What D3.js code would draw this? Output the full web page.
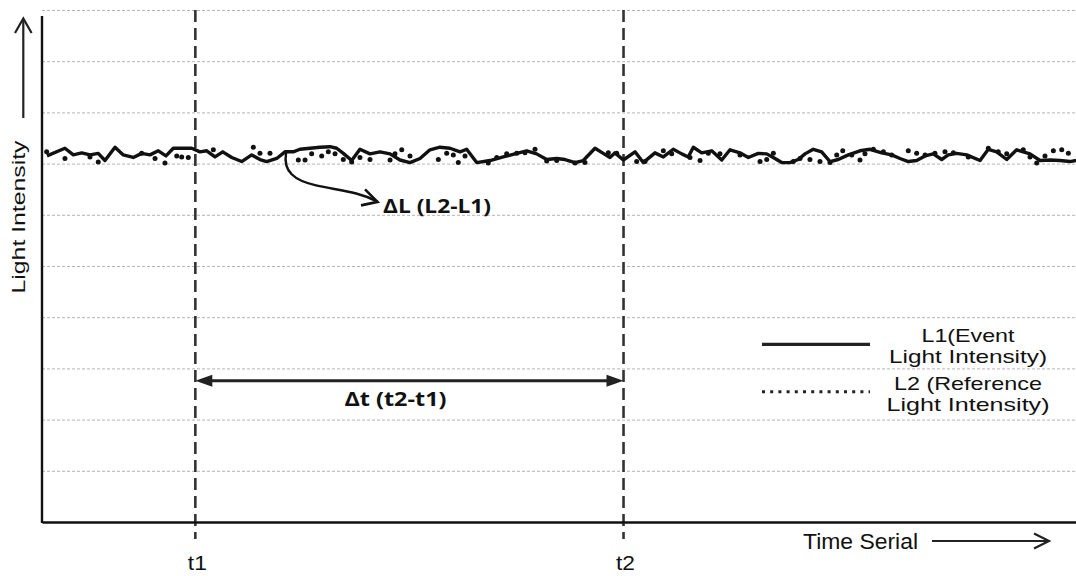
<!DOCTYPE html>
<html><head><meta charset="utf-8">
<script src="https://cdn.jsdelivr.net/npm/d3@7/dist/d3.min.js"></script>
<style>body{margin:0;background:#fff}svg{display:block}</style>
</head><body>
<svg id="chart" width="1076" height="576"></svg>
<script>
// ---- data ----
const l1Time = [0.48,2.22,3.03,3.84,4.64,5.44,6.09,7.06,7.86,8.83,9.64,10.44,11.25,11.99,12.70,14.48,15.28,15.93,16.73,17.48,18.35,19.31,20.28,21.08,21.73,22.70,23.50,24.30,24.95,25.92,26.89,27.85,28.50,29.14,29.95,30.75,31.72,32.69,33.66,34.62,35.59,36.56,37.52,38.49,39.46,40.43,41.07,42.04,43.33,44.61,45.91,46.88,47.84,48.81,49.78,50.58,51.55,52.35,53.48,54.28,54.93,55.42,56.22,57.35,58.15,59.28,60.09,61.05,61.87,62.50,62.99,63.80,64.77,65.74,66.54,67.50,68.31,69.27,70.09,70.72,71.54,72.34,73.14,73.79,74.59,75.40,76.21,77.01,77.98,79.11,80.08,81.21,82.17,82.98,83.78,84.59,85.40,86.20,87.01,87.65,88.46,89.43,90.72,91.52,92.33,93.30,94.26,95.55,96.52,97.49,98.45,99.42,100];
const l1Value = [7.15,7.30,7.17,7.21,7.17,7.20,7.06,7.32,7.17,7.12,7.20,7.17,7.25,7.15,7.30,7.30,7.23,7.25,7.13,7.23,7.12,7.04,7.17,7.08,7.04,7.10,7.23,7.23,7.28,7.30,7.32,7.33,7.30,7.20,7.06,7.28,7.19,7.23,7.19,7.07,7.02,7.10,7.27,7.32,7.30,7.23,7.28,7.02,7.06,7.13,7.20,7.25,7.19,7.08,7.10,7.08,7.02,7.06,7.30,7.20,7.12,7.21,7.07,7.23,7.02,7.21,7.13,7.28,7.19,7.13,7.32,7.21,7.25,7.07,7.27,7.21,7.12,7.20,7.19,7.12,7.02,7.02,7.08,7.19,7.28,7.23,7.04,7.08,7.17,7.25,7.28,7.21,7.17,7.10,7.04,7.06,7.15,7.19,7.08,7.17,7.20,7.17,7.06,7.28,7.23,7.08,7.27,7.19,7.06,7.07,7.06,7.04,7.06];
const l2Time = [0.45,2.22,4.64,5.44,9.64,10.93,11.89,13.03,13.51,14.15,16.57,20.44,21.08,22.05,24.79,25.44,26.08,27.05,27.69,28.34,29.14,29.95,30.75,31.72,33.66,34.14,34.79,35.59,38.33,39.14,39.78,40.26,40.91,43.16,43.98,44.94,45.91,46.71,47.68,48.81,49.78,51.55,52.51,54.77,55.58,57.51,58.32,60.09,60.90,62.67,63.64,64.44,65.57,67.50,69.44,70.09,70.73,72.66,73.31,74.27,75.24,76.21,76.86,77.44,78.31,79.11,79.59,80.40,81.37,82.17,83.78,84.59,85.40,86.36,87.33,88.14,89.58,91.52,92.48,93.30,94.90,95.55,96.20,97.00,97.81,98.62,99.26];
const l2Value = [7.23,7.10,7.13,7.03,7.20,7.10,7.01,7.15,7.13,7.12,7.27,7.32,7.20,7.20,7.07,7.07,7.19,7.15,7.23,7.19,7.08,7.03,7.12,7.08,7.07,7.19,7.27,7.15,7.08,7.20,7.17,7.02,7.15,7.01,7.12,7.19,7.20,7.21,7.28,7.05,7.06,7.01,7.02,7.21,7.20,7.04,7.04,7.25,7.19,7.12,7.06,7.20,7.19,7.17,7.04,7.08,7.20,7.04,7.10,7.08,7.04,7.02,7.17,7.25,7.17,7.07,7.19,7.28,7.23,7.17,7.25,7.20,7.17,7.20,7.23,7.21,7.13,7.30,7.23,7.19,7.27,7.13,7.01,7.15,7.25,7.27,7.20];
const markerTimes = [14.83, 56.24];
const markerLabels = ["t1", "t2"];
const gridValues = [1,2,3,4,5,6,7,8,9,10];
const legendLines = [["L1(Event", "Light Intensity)"], ["L2 (Reference", "Light Intensity)"]];
const yLabel = "Light Intensity";
const xLabel = "Time Serial";
const dLLabel = "ΔL (L2-L1)";
const dTLabel = "Δt (t2-t1)";

// ---- layout ----
const svg = d3.select("#chart");
const x = d3.scaleLinear().domain([0, 100]).range([42, 1076]);
const y = d3.scaleLinear().domain([0, 10]).range([522, 10]);
const ink = "#111";
const sans = "Liberation Sans, Arial, sans-serif";
const boldSans = "Open Sans, DejaVu Sans, sans-serif";

// gridlines
svg.append("g").attr("transform", `translate(${x(0)},0)`)
  .call(d3.axisLeft(y).tickValues(gridValues).tickSize(-(x(100) - x(0))).tickFormat(""))
  .call(g => g.select(".domain").remove())
  .selectAll(".tick line").attr("stroke", "#b4b4b4").attr("stroke-width", 1).attr("stroke-dasharray", "3,2");

// marker dashed vertical lines
svg.append("g").selectAll("line").data(markerTimes).join("line")
  .attr("x1", d => x(d)).attr("x2", d => x(d))
  .attr("y1", y(10)).attr("y2", y(0) + 17)
  .attr("stroke", "#333").attr("stroke-width", 2.6).attr("stroke-dasharray", "12,6");

// axes
svg.append("g").attr("transform", `translate(0,${y(0)})`)
  .call(d3.axisBottom(x).tickValues([]).tickSizeOuter(0))
  .select(".domain").attr("stroke", ink).attr("stroke-width", 2.7);
svg.append("line").attr("x1", x(0)).attr("x2", x(0)).attr("y1", y(0) + 1).attr("y2", y(10) + 6)
  .attr("stroke", ink).attr("stroke-width", 2.4);

// L2 dots
svg.append("g").selectAll("circle").data(l2Time).join("circle")
  .attr("cx", d => x(d)).attr("cy", (d, i) => y(l2Value[i])).attr("r", 2.5).attr("fill", ink);

// L1 line
const line = d3.line().x(d => x(d[0])).y(d => y(d[1]));
svg.append("path").datum(l1Time.map((t, i) => [t, l1Value[i]]))
  .attr("d", line).attr("fill", "none").attr("stroke", ink).attr("stroke-width", 3.4)
  .attr("stroke-linejoin", "round");

// marker labels
svg.append("g").selectAll("text").data(markerTimes).join("text")
  .attr("x", d => x(d) + 2).attr("y", 570).attr("text-anchor", "middle")
  .attr("font-family", sans).attr("font-size", 21).attr("fill", ink)
  .attr("textLength", 19).attr("lengthAdjust", "spacingAndGlyphs")
  .text((d, i) => markerLabels[i]);

// y label + arrow
svg.append("text").attr("transform", "translate(25,217) rotate(-90)").attr("text-anchor", "middle")
  .attr("font-family", sans).attr("font-size", 18.5).attr("fill", ink)
  .attr("textLength", 153).attr("lengthAdjust", "spacingAndGlyphs").text(yLabel);
svg.append("line").attr("x1", 23.3).attr("x2", 23.3).attr("y1", 118).attr("y2", 19)
  .attr("stroke", "#222").attr("stroke-width", 2.2);
svg.append("path").attr("d", "M15,33 L23.3,18.5 L31.6,33").attr("fill", "none")
  .attr("stroke", "#222").attr("stroke-width", 2.2);

// x label + arrow
svg.append("text").attr("x", 803).attr("y", 549)
  .attr("font-family", sans).attr("font-size", 22).attr("fill", ink)
  .attr("textLength", 115).attr("lengthAdjust", "spacingAndGlyphs").text(xLabel);
svg.append("line").attr("x1", 932).attr("x2", 1048).attr("y1", 541).attr("y2", 541)
  .attr("stroke", "#222").attr("stroke-width", 2);
svg.append("path").attr("d", "M1034,533.5 L1049,541 L1034,548.5").attr("fill", "none")
  .attr("stroke", "#222").attr("stroke-width", 2.2);

// delta t arrow
const dtY = y(2.76);
const xa = x(markerTimes[0]), xb = x(markerTimes[1]);
svg.append("line").attr("x1", xa + 10).attr("x2", xb - 10).attr("y1", dtY).attr("y2", dtY)
  .attr("stroke", "#222").attr("stroke-width", 3);
svg.append("path").attr("d", `M${xa},${dtY} L${xa + 17},${dtY - 6} L${xa + 17},${dtY + 6} Z`).attr("fill", "#222");
svg.append("path").attr("d", `M${xb},${dtY} L${xb - 17},${dtY - 6} L${xb - 17},${dtY + 6} Z`).attr("fill", "#222");
svg.append("text").attr("x", (xa + xb) / 2 - 14).attr("y", 406).attr("text-anchor", "middle")
  .attr("font-family", boldSans).attr("font-weight", "bold").attr("font-size", 20)
  .attr("fill", ink).attr("textLength", 102).attr("lengthAdjust", "spacingAndGlyphs").text(dTLabel);

// delta L curved arrow
const sx = x(23.6), sy = y(7.2);
svg.append("path")
  .attr("d", `M${sx},${sy} C${sx - 3},${sy + 18} ${sx + 8},${sy + 27} ${sx + 30},${sy + 32} S${sx + 72},${sy + 38} ${sx + 91},${sy + 48}`)
  .attr("fill", "none").attr("stroke", ink).attr("stroke-width", 2.4).attr("stroke-linecap", "round");
svg.append("path")
  .attr("d", `M${sx + 79},${sy + 36} L${sx + 91.5},${sy + 48.5} L${sx + 75},${sy + 52}`)
  .attr("fill", "none").attr("stroke", ink).attr("stroke-width", 2.6).attr("stroke-linejoin", "miter");
svg.append("text").attr("x", 383).attr("y", 212.5)
  .attr("font-family", boldSans).attr("font-weight", "bold").attr("font-size", 20)
  .attr("fill", ink).attr("textLength", 108).attr("lengthAdjust", "spacingAndGlyphs").text(dLLabel);

// legend
const lg = svg.append("g");
lg.append("line").attr("x1", 762).attr("x2", 870).attr("y1", 344.3).attr("y2", 344.3)
  .attr("stroke", "#222").attr("stroke-width", 3.2);
lg.append("line").attr("x1", 762).attr("x2", 870).attr("y1", 391.7).attr("y2", 391.7)
  .attr("stroke", "#222").attr("stroke-width", 3).attr("stroke-dasharray", "3,5.2");
const legendBase = [[341.5, 362.5], [389.5, 410.5]];
const legendWidths = [[93, 158], [148, 163]];
legendLines.forEach((pair, i) => {
  pair.forEach((txt, j) => {
    lg.append("text").attr("x", 968).attr("y", legendBase[i][j]).attr("text-anchor", "middle")
      .attr("font-family", sans).attr("font-size", 18.5).attr("fill", ink)
      .attr("textLength", legendWidths[i][j]).attr("lengthAdjust", "spacingAndGlyphs").text(txt);
  });
});
</script>
</body></html>
